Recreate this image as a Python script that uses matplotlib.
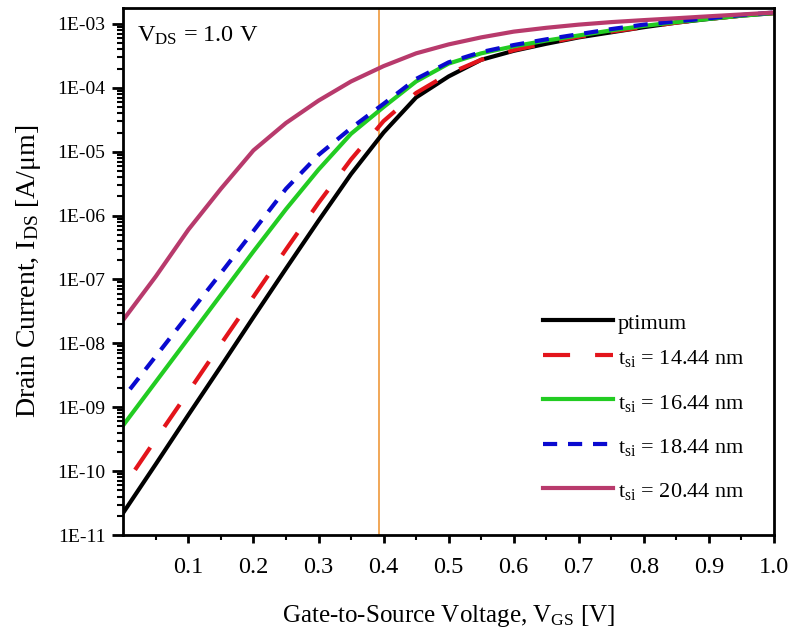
import math

import matplotlib
matplotlib.use("Agg")
import matplotlib.pyplot as plt
from matplotlib.ticker import FixedLocator, FuncFormatter, LogLocator, NullFormatter

plt.rcParams["font.family"] = ["Liberation Serif", "DejaVu Serif"]
plt.rcParams["mathtext.fontset"] = "custom"
plt.rcParams["mathtext.rm"] = "Liberation Serif"
plt.rcParams["mathtext.it"] = "Liberation Serif:italic"

# gate voltage [V]
VGS = [0.0, 0.05, 0.1, 0.15, 0.2, 0.25, 0.3, 0.35, 0.4, 0.45, 0.5,
       0.55, 0.6, 0.65, 0.7, 0.75, 0.8, 0.85, 0.9, 0.95, 1.0]

# drain current [A/um]
I_OPT = [2.24e-11, 1.29e-10, 7.59e-10, 4.37e-9, 2.57e-8, 1.48e-7, 8.32e-7, 4.47e-6,
         2.0e-5, 7.08e-5, 1.51e-4, 2.75e-4, 3.80e-4, 4.90e-4, 6.17e-4, 7.41e-4,
         8.91e-4, 1.05e-3, 1.20e-3, 1.35e-3, 1.48e-3]
I_1444 = [5.62e-11, 3.16e-10, 1.74e-9, 9.77e-9, 5.37e-8, 2.95e-7, 1.58e-6, 7.59e-6,
          3.02e-5, 8.32e-5, 1.66e-4, 2.75e-4, 3.89e-4, 5.01e-4, 6.31e-4, 7.59e-4,
          8.91e-4, 1.05e-3, 1.20e-3, 1.35e-3, 1.48e-3]
I_1644 = [5.25e-10, 2.51e-9, 1.20e-8, 5.75e-8, 2.75e-7, 1.26e-6, 5.25e-6, 1.91e-5,
          5.01e-5, 1.26e-4, 2.40e-4, 3.47e-4, 4.47e-4, 5.50e-4, 6.61e-4, 7.94e-4,
          9.33e-4, 1.07e-3, 1.20e-3, 1.35e-3, 1.48e-3]
I_1844 = [1.41e-9, 6.31e-9, 2.82e-8, 1.26e-7, 5.75e-7, 2.63e-6, 8.91e-6, 2.34e-5,
          5.62e-5, 1.38e-4, 2.51e-4, 3.63e-4, 4.68e-4, 5.75e-4, 6.92e-4, 8.32e-4,
          9.77e-4, 1.10e-3, 1.23e-3, 1.38e-3, 1.51e-3]
I_2044 = [2.34e-8, 1.12e-7, 6.03e-7, 2.63e-6, 1.05e-5, 2.82e-5, 6.31e-5, 1.26e-4,
          2.19e-4, 3.47e-4, 4.79e-4, 6.17e-4, 7.59e-4, 8.71e-4, 9.77e-4, 1.07e-3,
          1.15e-3, 1.23e-3, 1.32e-3, 1.41e-3, 1.51e-3]

LABELS = ["ptimum",
          r"t$_{\mathrm{si}}$ = 14.44 nm",
          r"t$_{\mathrm{si}}$ = 16.44 nm",
          r"t$_{\mathrm{si}}$ = 18.44 nm",
          r"t$_{\mathrm{si}}$ = 20.44 nm"]
V_MARK = 0.393
X_TICKS = [0.1, 0.2, 0.3, 0.4, 0.5, 0.6, 0.7, 0.8, 0.9, 1.0]

COLORS = ["black", "#e3141b", "#22cc22", "#0a0ad0", "#b83a6c"]
DASHES = [None, (6.5, 6), None, (3.4, 2.6), None]
OFFSETS = [0, 7.5, 0, 3.4, 0]   # curves start in a gap, as in the original


def linestyle(k, offset):
    return "-" if DASHES[k] is None else (offset, DASHES[k])


fig = plt.figure(figsize=(7.93, 6.36), dpi=100)
ax = fig.add_axes([0.1555, 0.1588, 0.8205, 0.8286])

ax.axvline(V_MARK, color="#f0a04a", lw=1.3, zorder=1)
for k, ys in enumerate([I_OPT, I_1444, I_1644, I_1844, I_2044]):
    ax.plot(VGS, ys, lw=3, color=COLORS[k], ls=linestyle(k, OFFSETS[k]), label=LABELS[k])

ax.set_yscale("log")
ax.set_xlim(0, 1.0)
ax.set_ylim(1e-11, 10 ** -2.75)

ax.xaxis.set_major_locator(FixedLocator(X_TICKS))
ax.xaxis.set_minor_locator(FixedLocator([0.05 + 0.1 * k for k in range(10)]))
ax.xaxis.set_major_formatter(FuncFormatter(lambda v, p: f"{v:.1f}"))
ax.yaxis.set_major_locator(LogLocator(base=10, numticks=20))
ax.yaxis.set_minor_locator(LogLocator(base=10, subs=range(2, 10), numticks=20))
ax.yaxis.set_minor_formatter(NullFormatter())
ax.yaxis.set_major_formatter(FuncFormatter(lambda v, p: f"1E-{round(-math.log10(v)):02d}"))

ax.tick_params(axis="x", which="major", direction="out", length=6, width=2)
ax.tick_params(axis="x", which="minor", direction="out", length=3.5, width=1.5)
ax.tick_params(axis="y", which="major", direction="out", length=8, width=2)
ax.tick_params(axis="y", which="minor", direction="out", length=4.5, width=1.5)
ax.tick_params(axis="x", labelsize=17.5, pad=10)
ax.tick_params(axis="y", labelsize=14, pad=5)
for sp in ax.spines.values():
    sp.set_linewidth(2)

ax.set_xlabel(r"Gate-to-Source Voltage, V$_{\mathrm{GS}}$ [V]", fontsize=18, labelpad=18)
ax.set_ylabel(r"Drain Current, I$_{\mathrm{DS}}$ [A/μm]", fontsize=20, labelpad=10)

ax.text(0.021, 0.968, r"V$_{\mathrm{DS}}$ = 1.0 V", transform=ax.transAxes,
        fontsize=17.5, va="top", ha="left")

# legend drawn by hand: the first row (no subscript) sits closer to the second
leg_y = [0.408, 0.3416, 0.258, 0.1727, 0.0892]
for k, y in enumerate(leg_y):
    ax.plot([0.645, 0.7526], [y, y], transform=ax.transAxes, lw=3,
            color=COLORS[k], ls=linestyle(k, 0))
    ax.text(0.760, y - 0.018, LABELS[k], transform=ax.transAxes, fontsize=16,
            ha="left", va="baseline")

fig.savefig("out.png", dpi=100)
